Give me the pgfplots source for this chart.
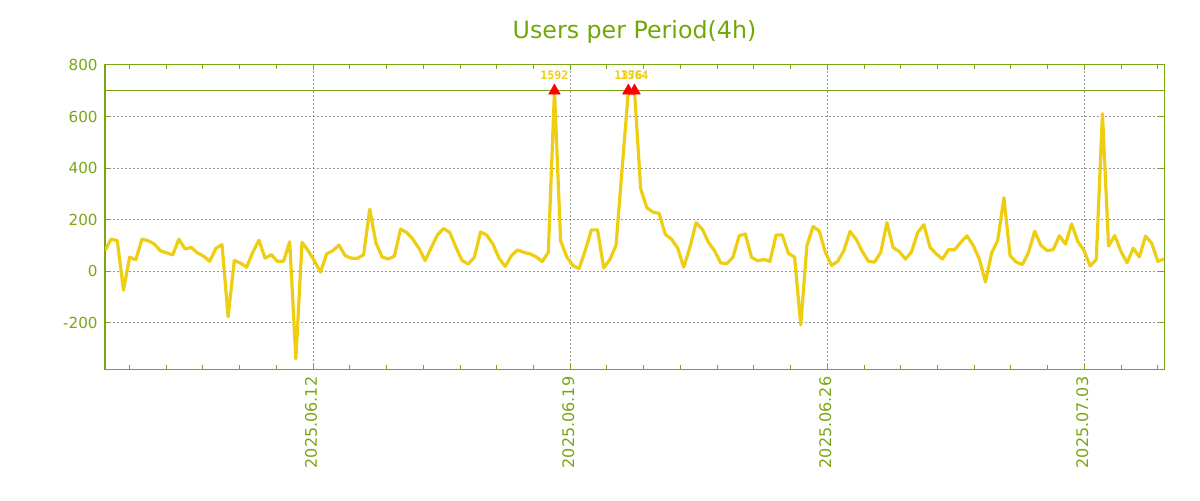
\documentclass[border=0pt]{standalone}
\usepackage{fontspec}
\setmainfont{DejaVu Sans}
\setmonofont{DejaVu Sans Mono}
\usepackage{pgfplots}
\usepackage{pgfplotstable}
\pgfplotsset{compat=1.18}
\definecolor{axgreen}{RGB}{122,166,20}
\definecolor{titlegreen}{RGB}{112,168,8}
\definecolor{lineyellow}{RGB}{238,206,18}
\definecolor{gridgray}{RGB}{150,150,150}
\pgfplotstableread{
j v
0 79
1 124
2 118
3 -74
4 54
5 44
6 124
7 118
8 105
9 79
10 71
11 63
12 124
13 86
14 92
15 71
16 58
17 38
18 88
19 103
20 -177
21 41
22 31
23 15
24 73
25 120
26 50
27 64
28 38
29 38
30 114
31 -341
32 112
33 79
34 40
35 -4
36 67
37 79
38 101
39 60
40 50
41 50
42 63
43 240
44 110
45 55
46 47
47 58
48 163
49 150
50 124
51 88
52 41
53 92
54 141
55 165
56 150
57 92
58 41
59 28
60 54
61 152
62 140
63 105
64 50
65 18
66 60
67 82
68 73
69 67
70 56
71 37
72 73
73 1592
74 118
75 55
76 22
77 10
78 80
79 160
80 160
81 12
82 45
83 100
84 400
85 1376
86 1564
87 320
88 246
89 229
90 224
91 143
92 124
93 90
94 15
95 92
96 188
97 163
98 112
99 79
100 32
101 29
102 54
103 137
104 144
105 54
106 40
107 45
108 38
109 140
110 140
111 69
112 54
113 -209
114 99
115 173
116 156
117 73
118 22
119 38
120 79
121 154
122 124
123 76
124 38
125 35
126 73
127 188
128 92
129 76
130 47
131 75
132 150
133 180
134 92
135 67
136 47
137 83
138 83
139 112
140 137
141 100
142 47
143 -42
144 70
145 120
146 285
147 60
148 35
149 25
150 73
151 155
152 100
153 80
154 83
155 137
156 105
157 183
158 115
159 80
160 20
161 45
162 611
163 97
164 138
165 77
166 32
167 89
168 55
169 136
170 108
171 38
172 47
}\usersdata
\begin{document}
\begin{tikzpicture}
\path[use as bounding box] (-78.75pt,-98.25pt) rectangle (821.25pt,276.75pt);
\begin{axis}[
  at={(0pt,0pt)}, anchor=south west,
  scale only axis, width=794.25pt, height=228pt,
  xmin=0, xmax=172, ymin=-380, ymax=800,
  axis line style={axgreen, line width=0.75pt},
  every tick/.style={axgreen, line width=0.75pt},
  tick align=inside,
  xtick pos=both, ytick pos=both,
  major tick length=3.75pt, minor tick length=3pt,
  xtick={33.8,75.555,117.31,159.065},
  xticklabels={2025.06.12,2025.06.19,2025.06.26,2025.07.03},
  minor xtick={3.975,9.94,...,171},
  ytick={-200,0,200,400,600,800},
  xmajorgrids, ymajorgrids,
  major grid style={gridgray, dash pattern=on 1.5pt off 1.5pt, line width=0.75pt},
  /pgf/number format/assume math mode=true,
  ticklabel style={font=\fontsize{11.4}{13}\selectfont, text=axgreen},
  yticklabel style={xshift=-2pt},
  xticklabel style={font=\fontsize{12}{13}\selectfont, yshift=-2.2pt, xshift=-1.5pt, rotate=90, anchor=east},
  title={Users per Period(4h)},
  title style={at={(0.5,1)}, anchor=center, yshift=18.75pt, font=\fontsize{17.8}{20}\selectfont, text=titlegreen},
  clip mode=individual,
]
\addplot[axgreen, line width=0.75pt, forget plot] coordinates {(0,700) (172,700)};
\addplot[lineyellow, line width=2.4pt, line join=round, mark=none, restrict y to domain*=-1000:700] table[x=j, y=v] {\usersdata};
\addplot[only marks, mark=triangle*, mark size=5pt, mark options={fill=red, draw=red},
  nodes near coords, point meta=explicit symbolic,
  nodes near coords style={font=\ttfamily\bfseries\fontsize{8.7}{10}\selectfont, text=lineyellow, anchor=center, yshift=11.6pt}]
  coordinates {(73,700) [1592] (85,700) [1376] (86,700) [1564]};
\end{axis}
\end{tikzpicture}
\end{document}
